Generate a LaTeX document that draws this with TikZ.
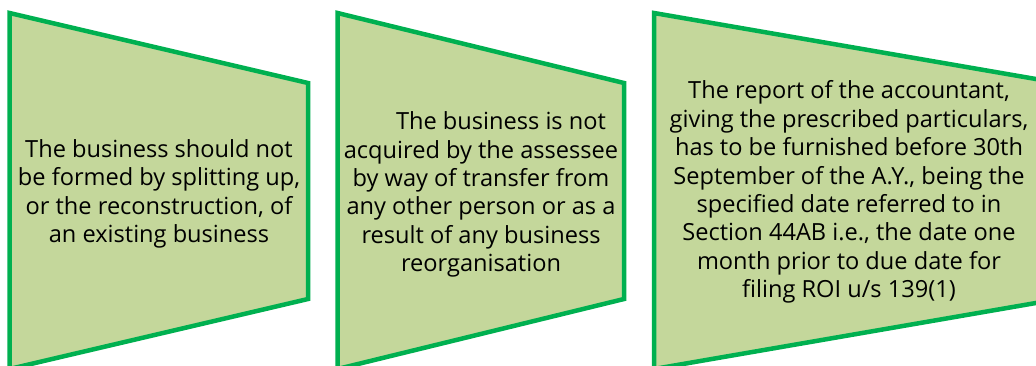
\documentclass[tikz,border=0pt]{standalone}
\usepackage{fontspec}
\setmainfont{Open Sans}
\definecolor{boxfill}{HTML}{C4D79B}
\definecolor{boxline}{HTML}{00B050}
\begin{document}
\begin{tikzpicture}[x=1pt,y=-1pt,
  panel/.style={draw=boxline, fill=boxfill, line width=4.5pt, line join=miter},
  paneltext/.style={align=center, font=\fontsize{23.6}{28.4}\selectfont, text=black, inner sep=0pt}]
\useasboundingbox (0,0) rectangle (1036,365);
\begin{scope}
\clip (0,0) rectangle (1036,365);
\draw[panel] (9.5,13) -- (308,83) -- (308,299) -- (9.5,369) -- cycle;
\draw[panel] (337.5,13) -- (624,83) -- (624,299) -- (337.5,369) -- cycle;
\draw[panel] (654,13) -- (1059,83) -- (1059,299) -- (654,369) -- cycle;
\end{scope}
\node[paneltext] (t1) at (159,194) {The business should not\\be formed by splitting up,\\or the reconstruction, of\\an existing business};
\node[paneltext] (t2) at (481,194.5) {\hspace*{40pt}The business is not\\acquired by the assessee\\by way of transfer from\\any other person or as a\\result of any business\\reorganisation};
\node[paneltext] (t3) at (849,192) {The report of the accountant,\\giving the prescribed particulars,\\has to be furnished before 30th\\September of the A.Y., being the\\specified date referred to in\\Section 44AB i.e., the date one\\month prior to due date for\\filing ROI u/s 139(1)};
\end{tikzpicture}
\end{document}
